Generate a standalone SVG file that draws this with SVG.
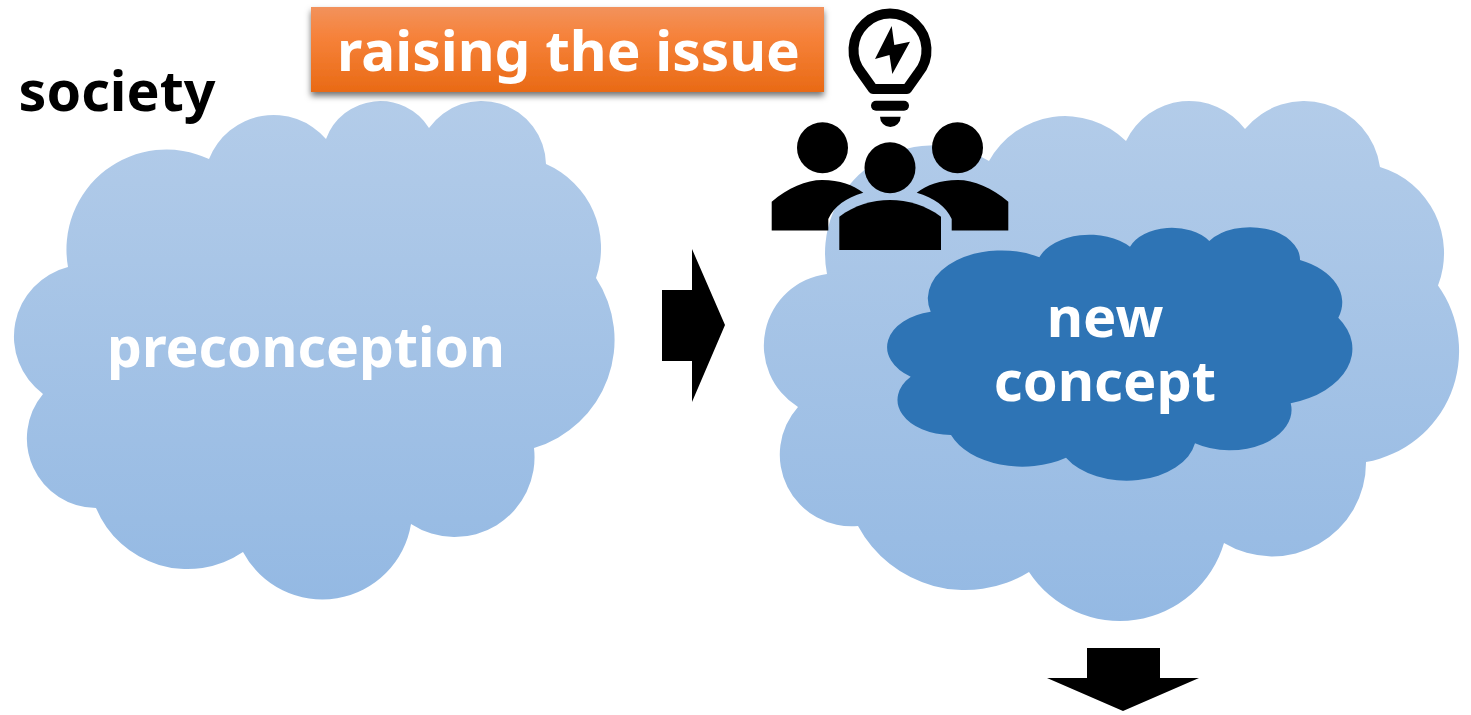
<svg xmlns="http://www.w3.org/2000/svg" width="1471" height="715" viewBox="0 0 1471 715">
<defs>
<linearGradient id="cg" x1="0" y1="0" x2="0" y2="1"><stop offset="0" stop-color="#b3cce9"/><stop offset="1" stop-color="#94b9e3"/></linearGradient>
<linearGradient id="og" x1="0" y1="0" x2="0" y2="1"><stop offset="0" stop-color="#f2925c"/><stop offset="0.35" stop-color="#f6823a"/><stop offset="1" stop-color="#e96a15"/></linearGradient>
<filter id="sh" x="-5%" y="-15%" width="110%" height="140%"><feDropShadow dx="0" dy="4" stdDeviation="3" flood-color="#000" flood-opacity="0.55"/></filter>
</defs>
<style>
text{font-family:"Noto Sans","Open Sans",sans-serif;font-weight:700}
.w{fill:#fff}
</style>
<g id="cloud-left">
<path fill="url(#cg)" d="M68 267A100 100 0 0 1 209 159A69.4 69.4 0 0 1 326 139A57.7 57.7 0 0 1 429 128A64.5 64.5 0 0 1 546 164A91.7 91.7 0 0 1 596 278A112.7 112.7 0 0 1 534 448A79.8 79.8 0 0 1 411 524A89.9 89.9 0 0 1 243 552A99 99 0 0 1 96 508A69.5 69.5 0 0 1 43 394A71.6 71.6 0 0 1 68 267Z"/>
<text class="w" x="306" y="367" font-size="56" text-anchor="middle" textLength="398" lengthAdjust="spacingAndGlyphs">preconception</text>
</g>
<g id="cloud-right">
<path fill="url(#cg)" d="M827 274A108 108 0 0 1 989 161A86.9 86.9 0 0 1 1126 141A69.8 69.8 0 0 1 1245 129A76.6 76.6 0 0 1 1380 167A89.9 89.9 0 0 1 1438 285.5A112.6 112.6 0 0 1 1366 462A93.7 93.7 0 0 1 1224 543A108.6 108.6 0 0 1 1029 572A121.7 121.7 0 0 1 858 526A71.6 71.6 0 0 1 798 407A72.2 72.2 0 0 1 827 274Z"/>
</g>
<g id="cloud-inner">
<path fill="#2e74b5" d="M930.7 311.7A73.5 48 0 0 1 1039.3 257.3A53.7 35.1 0 0 1 1130 246.7A44.7 29.2 0 0 1 1209.3 241A49.9 32.6 0 0 1 1300 260A71 46.4 0 0 1 1338.3 317.7A87.2 57 0 0 1 1290.7 403.3A61.8 40.4 0 0 1 1195 443.3A69.6 45.5 0 0 1 1066 457.7A76.6 50.1 0 0 1 951 435A53.8 35.2 0 0 1 910.7 376.7A55.4 36.2 0 0 1 930.7 311.7Z"/>
<text class="w" font-size="56" text-anchor="middle"><tspan x="1105" y="337">new</tspan><tspan x="1105" y="401">concept</tspan></text>
</g>
<g id="label-issue">
<rect x="311" y="7" width="513" height="85" fill="url(#og)" filter="url(#sh)"/>
<text class="w" x="568.5" y="71" font-size="56" text-anchor="middle" textLength="463" lengthAdjust="spacingAndGlyphs">raising the issue</text>
</g>
<text id="society" x="117" y="111" font-size="56" text-anchor="middle" fill="#000" textLength="197" lengthAdjust="spacingAndGlyphs">society</text>
<g id="people" fill="#000">
<circle cx="822.5" cy="147.7" r="25.5"/><circle cx="957.5" cy="147.7" r="25.5"/><circle cx="890" cy="167.7" r="25.5"/>
<path d="M771.7 230.5V201.7C788 188 806 180 822.3 180C840 180 853 185 863.3 192.7C846 198 834 206 828.3 219V230.5Z"/>
<path d="M1008.3 230.5V201.7C992 188 974 180 957.7 180C940 180 927 185 916.7 192.7C934 198 946 206 951.7 219V230.5Z"/>
<path d="M839.3 250V216.7C855 205 872 200 890 200C908 200 925 205 941 216.7V250Z"/>
</g>
<g id="bulb">
<path fill="none" stroke="#000" stroke-width="10" stroke-linejoin="round" d="M873 89H907L918 73.5A36.5 36.5 0 1 0 862 73.5Z"/>
<path fill="#000" d="M891.7 26L875 59L889.5 55L892.3 74L910 41.7L894.3 45Z"/>
<rect x="871" y="100.7" width="38" height="10" rx="5" fill="#000"/>
<path fill="#000" d="M880 116.7H900.7A10.3 10.3 0 0 1 880 116.7Z"/>
</g>
<g id="connectors" fill="#000">
<path d="M662 290H692V249L725 325L692 402V361H662Z"/>
<path d="M1087 648H1160V678H1199L1123 711L1047 678H1087Z"/>
</g>
</svg>
